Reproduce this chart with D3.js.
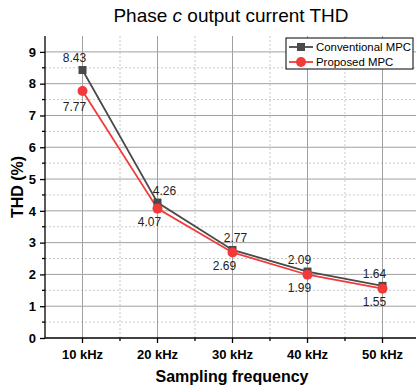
<!DOCTYPE html>
<html>
<head>
<meta charset="utf-8">
<script src="https://cdn.jsdelivr.net/npm/d3@7"></script>
<style>
body { margin: 0; background: #fff; }
svg { display: block; font-family: "Liberation Sans", Arial, sans-serif; }
</style>
</head>
<body>
<div class="chart"></div>
<script>
// data
const categories = ["10 kHz", "20 kHz", "30 kHz", "40 kHz", "50 kHz"];
const conventional = [8.43, 4.26, 2.77, 2.09, 1.64];
const proposed = [7.77, 4.07, 2.69, 1.99, 1.55];
const yTicks = [0, 1, 2, 3, 4, 5, 6, 7, 8, 9];
const seriesNames = ["Conventional MPC", "Proposed MPC"];
// label nudges (px) to match where the values sit in the original
const convLabelDx = [-8, 7, 3, -8, -8];
const propLabelDx = [-8, -8, -8, -8, -8];

function drawChart()
{
    const W = 416, H = 392;
    const margin = {top: 36, left: 45, bottom: 54};
    const plotH = H - margin.top - margin.bottom;

    const svg = d3.select('.chart')
        .append('svg')
        .attr('width', W)
        .attr('height', H);

    const x = d3.scaleBand().domain(categories).range([margin.left, 420]).padding(0);
    const y = d3.scaleLinear().domain([0, 9.5]).range([margin.top + plotH, margin.top]);
    const cx = d => x(d) + x.bandwidth() / 2;

    const grid = svg.append('g');
    // minor grid (halves)
    const minorY = d3.range(0.5, 9.5, 1);
    grid.selectAll('.gy-minor').data(minorY).enter().append('line')
        .attr('x1', margin.left).attr('x2', W)
        .attr('y1', d => y(d)).attr('y2', d => y(d))
        .attr('stroke', '#c8c8c8').attr('stroke-dasharray', '2,2');
    grid.selectAll('.gx-minor').data(categories.slice(1)).enter().append('line')
        .attr('x1', d => x(d)).attr('x2', d => x(d))
        .attr('y1', margin.top).attr('y2', y(0))
        .attr('stroke', '#c8c8c8').attr('stroke-dasharray', '2,2');
    // major grid
    grid.selectAll('.gy').data(yTicks.slice(1)).enter().append('line')
        .attr('x1', margin.left).attr('x2', W)
        .attr('y1', d => y(d)).attr('y2', d => y(d))
        .attr('stroke', '#a0a0a0');
    grid.selectAll('.gx').data(categories).enter().append('line')
        .attr('x1', d => cx(d)).attr('x2', d => cx(d))
        .attr('y1', margin.top).attr('y2', y(0))
        .attr('stroke', '#a0a0a0');

    // axes
    const yAxis = svg.append('g')
        .attr('transform', `translate(${margin.left},0)`)
        .call(d3.axisLeft(y).tickValues(yTicks).tickSize(5).tickPadding(4).tickFormat(d3.format('d')));
    yAxis.select('.domain').attr('d', `M0,${margin.top}V${y(0)}`).attr('stroke', '#000').attr('stroke-width', 1.3);
    yAxis.selectAll('.tick line').attr('stroke-width', 1.3);
    yAxis.selectAll('text').attr('font-size', 13).attr('font-weight', 'bold')
        .attr('font-family', '"Liberation Sans", Arial, sans-serif').attr('fill', '#000');
    yAxis.selectAll('.minor').data(minorY).enter().append('line')
        .attr('x1', -3).attr('x2', 0)
        .attr('y1', d => y(d)).attr('y2', d => y(d))
        .attr('stroke', '#000').attr('stroke-width', 1.3);

    const xAxis = svg.append('g')
        .attr('transform', `translate(0,${y(0)})`)
        .call(d3.axisBottom(x).tickSize(5).tickPadding(7));
    xAxis.select('.domain').attr('d', `M${margin.left},0H${W}`).attr('stroke', '#000').attr('stroke-width', 1.3);
    xAxis.selectAll('.tick line').attr('stroke-width', 1.3);
    xAxis.selectAll('text').attr('font-size', 13).attr('font-weight', 'bold')
        .attr('font-family', '"Liberation Sans", Arial, sans-serif').attr('fill', '#000');
    xAxis.selectAll('.minor').data(categories.slice(1)).enter().append('line')
        .attr('x1', d => x(d)).attr('x2', d => x(d))
        .attr('y1', 0).attr('y2', 3)
        .attr('stroke', '#000').attr('stroke-width', 1.3);

    // lines
    const line = d3.line().x((d, i) => cx(categories[i])).y(d => y(d));
    svg.append('path').datum(conventional)
        .attr('fill', 'none').attr('stroke', '#4a4a4a').attr('stroke-width', 1.8)
        .attr('d', line);
    svg.append('path').datum(proposed)
        .attr('fill', 'none').attr('stroke', '#f23a3a').attr('stroke-width', 1.8)
        .attr('d', line);

    svg.selectAll('.sq').data(conventional).enter().append('rect')
        .attr('x', (d, i) => cx(categories[i]) - 4)
        .attr('y', d => y(d) - 4)
        .attr('width', 8).attr('height', 8)
        .attr('fill', '#4a4a4a');
    svg.selectAll('.dot').data(proposed).enter().append('circle')
        .attr('cx', (d, i) => cx(categories[i]))
        .attr('cy', d => y(d))
        .attr('r', 5)
        .attr('fill', '#f23a3a');

    // value labels
    svg.selectAll('.lab-c').data(conventional).enter().append('text')
        .attr('x', (d, i) => cx(categories[i]) + convLabelDx[i])
        .attr('y', d => y(d) - 12)
        .attr('dy', '0.35em')
        .attr('text-anchor', 'middle')
        .attr('font-size', 12).attr('fill', '#222')
        .text(d => d.toFixed(2));
    svg.selectAll('.lab-p').data(proposed).enter().append('text')
        .attr('x', (d, i) => cx(categories[i]) + propLabelDx[i])
        .attr('y', (d, i) => y(d) + (i == 0 ? 16 : 13))
        .attr('dy', '0.35em')
        .attr('text-anchor', 'middle')
        .attr('font-size', 12).attr('fill', '#222')
        .text(d => d.toFixed(2));

    // legend
    const lg = svg.append('g').attr('transform', 'translate(286,38)');
    lg.append('rect').attr('width', 127).attr('height', 31)
        .attr('fill', '#fff').attr('stroke', '#000').attr('stroke-width', 1);
    const colors = ['#4a4a4a', '#f23a3a'];
    seriesNames.forEach(function(name, i)
    {
        const row = lg.append('g').attr('transform', `translate(0,${9 + i * 15})`);
        row.append('line').attr('x1', 3).attr('x2', 27)
            .attr('stroke', colors[i]).attr('stroke-width', 1.8);
        if (i == 0)
            row.append('rect').attr('x', 11).attr('y', -4).attr('width', 8).attr('height', 8).attr('fill', colors[i]);
        else
            row.append('circle').attr('cx', 15).attr('r', 5).attr('fill', colors[i]);
        row.append('text').attr('x', 30).attr('dy', '0.35em')
            .attr('font-size', 11.4).attr('fill', '#000').text(name);
    });

    // titles
    const title = svg.append('text')
        .attr('x', 231).attr('y', 22)
        .attr('text-anchor', 'middle')
        .attr('font-size', 19).attr('fill', '#000');
    title.append('tspan').text('Phase ');
    title.append('tspan').attr('font-style', 'italic').text('c');
    title.append('tspan').text(' output current THD');

    svg.append('text')
        .attr('transform', `translate(23,${(margin.top + y(0)) / 2}) rotate(-90)`)
        .attr('text-anchor', 'middle')
        .attr('font-size', 16).attr('font-weight', 'bold')
        .text('THD (%)');

    svg.append('text')
        .attr('x', 232).attr('y', 382)
        .attr('text-anchor', 'middle')
        .attr('font-size', 16).attr('font-weight', 'bold')
        .text('Sampling frequency');
}

drawChart();
</script>
</body>
</html>
